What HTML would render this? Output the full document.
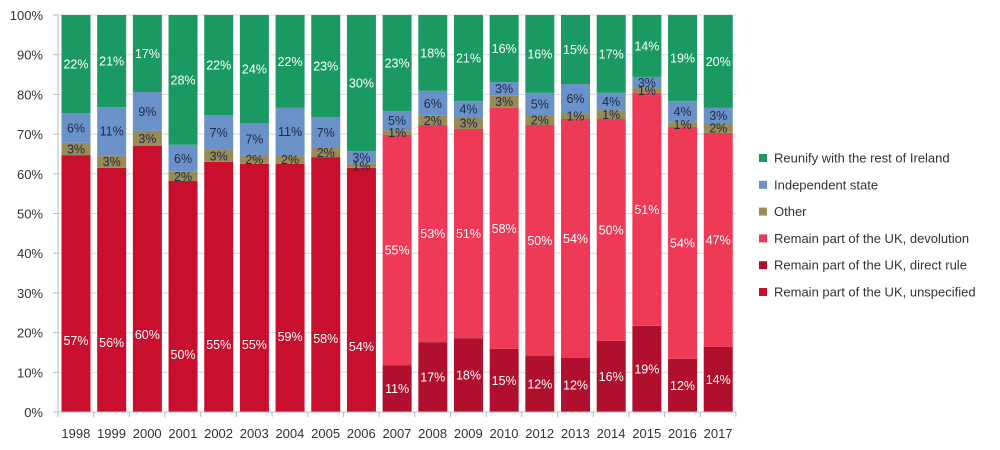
<!DOCTYPE html>
<html><head><meta charset="utf-8"><style>
body{margin:0;background:#fff;}
svg{display:block;font-family:"Liberation Sans",sans-serif;}
</style></head><body>
<svg id="c" width="1000" height="450" xmlns="http://www.w3.org/2000/svg"></svg>
<script>
const svg=document.getElementById('c');
const Y0=412,S=3.97,X0=58,STEP=35.68,BW=29;
const y=v=>Y0-v*S;
const C={g:'#1a9a62',b:'#6b92c8',o:'#978b58',r:'#c8102e',d:'#ee3a56',dr:'#b0102e'};
// year, drTop, devTop (red top), otherTop, blueTop, labels [dr, main, other, blue, green]
const D=[
['1998',0,64.7,67.8,75.3,null,'57%','3%','6%','22%',57],
['1999',0,61.5,64.7,76.8,null,'56%','3%','11%','21%',56],
['2000',0,67,70.8,80.6,null,'60%','3%','9%','17%',60],
['2001',0,58.2,60.5,67.3,null,'50%','2%','6%','28%',50],
['2002',0,63,66,74.8,null,'55%','3%','7%','22%',55],
['2003',0,62.5,64.7,72.8,null,'55%','2%','7%','24%',55],
['2004',0,62.5,64.7,76.6,null,'59%','2%','11%','22%',59],
['2005',0,64.2,66.5,74.3,null,'58%','2%','7%','23%',58],
['2006',0,61.5,62.5,65.7,null,'54%','1%','3%','30%',54],
['2007',11.8,69.8,71,75.8,'11%','55%','1%','5%','23%'],
['2008',17.6,72.3,74.6,80.9,'17%','53%','2%','6%','18%'],
['2009',18.6,71.3,74.3,78.3,'18%','51%','3%','4%','21%'],
['2010',15.9,76.6,79.8,83.1,'15%','58%','3%','3%','16%'],
['2012',14.1,72.3,74.8,80.4,'12%','50%','2%','5%','16%'],
['2013',13.6,73.8,75.3,82.6,'12%','54%','1%','6%','15%'],
['2014',17.9,73.8,76,80.4,'16%','50%','1%','4%','17%'],
['2015',21.7,80.4,81.6,84.4,'19%','51%','1%','3%','14%'],
['2016',13.4,71.8,73,78.3,'12%','54%','1%','4%','19%'],
['2017',16.4,70.3,72.8,76.6,'14%','47%','2%','3%','20%']];
let h='';
for(let i=0;i<=10;i++){const yy=y(i*10);h+=`<line x1="${X0}" x2="736" y1="${yy}" y2="${yy}" stroke="#d9d9d9" stroke-width="1"/><line x1="${X0-5}" x2="${X0}" y1="${yy}" y2="${yy}" stroke="#bbb"/><text x="43" y="${yy+5}" font-size="13" text-anchor="end" fill="#333">${i*10}%</text>`;}
h+=`<line x1="${X0}" x2="${X0}" y1="15" y2="${Y0}" stroke="#bbb"/>`;
const rect=(x,a,b,c)=>`<rect x="${x}" y="${y(b)}" width="${BW}" height="${(b-a)*S}" fill="${c}"/>`;
const txt=(x,yy,t,c)=>`<text x="${x}" y="${yy+4.5}" font-size="12.5" text-anchor="middle" fill="${c}">${t}</text>`;
D.forEach((d,i)=>{
 const x=X0+i*STEP+3.5,cx=x+BW/2;
 const [yr,dr,dv,ot,bl]=d;
 const isNew=d[5]!==null;
 if(isNew){h+=rect(x,0,dr,C.dr)+rect(x,dr,dv,C.d);}
 else h+=rect(x,0,dv,C.r);
 h+=rect(x,dv,ot,C.o)+rect(x,ot,bl,C.b)+rect(x,bl,100,C.g);
 if(isNew){h+=txt(cx,y(dr/2),d[5],'#fff')+txt(cx,y((dr+dv)/2),d[6],'#fff');}
 else h+=txt(cx,y(d[10]/2-10.5),d[6],'#fff');
 h+=txt(cx,y((dv+ot)/2),d[7],'#1f2a44')+txt(cx,y((ot+bl)/2),d[8],'#1f2a44')+txt(cx,y((bl+100)/2),d[9],'#fff');
 h+=`<line x1="${X0+(i+1)*STEP}" x2="${X0+(i+1)*STEP}" y1="${Y0}" y2="${Y0+5}" stroke="#bbb"/>`;
 h+=`<text x="${X0+i*STEP+STEP/2}" y="438" font-size="13" text-anchor="middle" fill="#333">${yr}</text>`;
});
h+=`<line x1="${X0}" x2="736" y1="${Y0}" y2="${Y0}" stroke="#bbb"/><line x1="${X0}" x2="${X0}" y1="${Y0}" y2="${Y0+5}" stroke="#bbb"/>`;
const L=[['Reunify with the rest of Ireland',C.g],['Independent state',C.b],['Other',C.o],['Remain part of the UK, devolution',C.d],['Remain part of the UK, direct rule',C.dr],['Remain part of the UK, unspecified',C.r]];
L.forEach((l,i)=>{const yy=158+i*26.8;h+=`<rect x="759" y="${yy-4}" width="8" height="8" fill="${l[1]}"/><text x="774" y="${yy+4.5}" font-size="13" fill="#333">${l[0]}</text>`;});
svg.innerHTML=h;
</script>
</body></html>
